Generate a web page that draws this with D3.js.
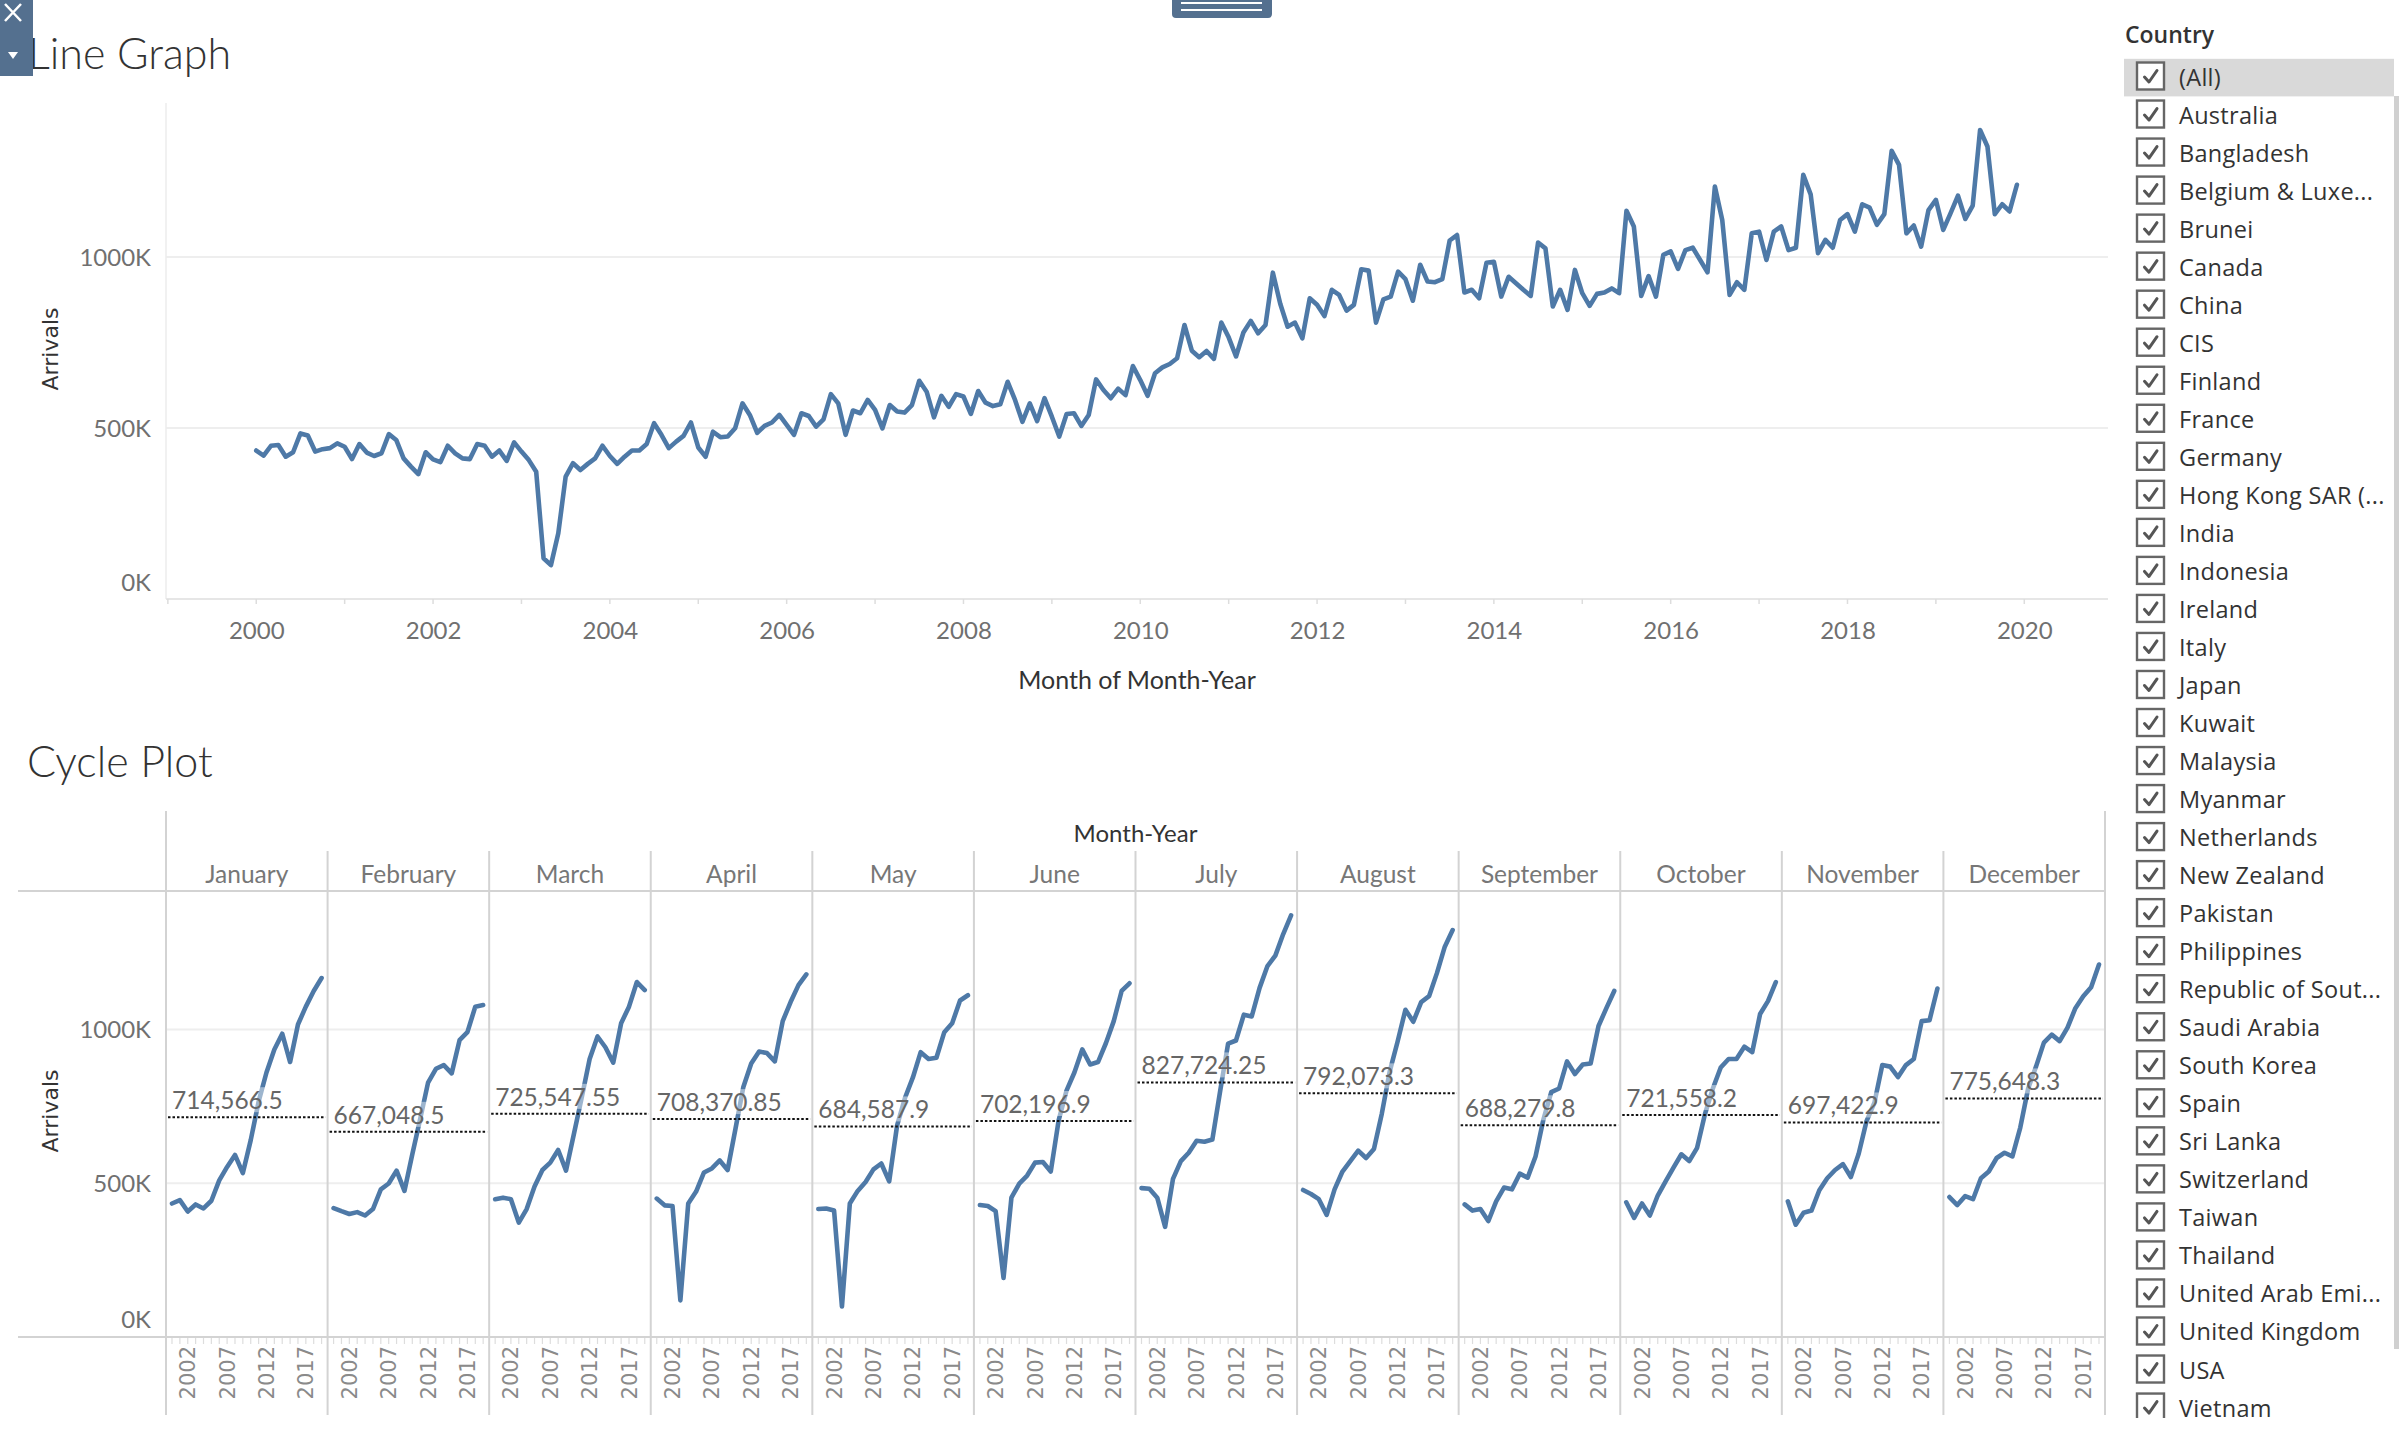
<!DOCTYPE html>
<html><head><meta charset="utf-8">
<script src="https://cdn.jsdelivr.net/npm/d3@7/dist/d3.min.js"></script>
<style>
html,body{margin:0;padding:0;background:#fff;}
svg{display:block;}
</style></head><body>
<svg id="chart" width="2399" height="1437"></svg>
<script>
// ---------- DATA ----------
const years = [2000,2001,2002,2003,2004,2005,2006,2007,2008,2009,2010,2011,2012,2013,2014,2015,2016,2017,2018,2019];
const months = ["January","February","March","April","May","June","July","August","September","October","November","December"];
// Monthly arrivals (thousands), one row per year, Jan..Dec
const arrivalsK = [
  434,419,448,450,416,429,484,478,431,438,441,455,      // 2000
  445,409,453,428,418,426,482,465,411,387,365,429,      // 2001
  408,400,448,426,411,409,453,448,416,434,404,458,      // 2002
  431,406,372,119,99,192,358,397,377,395,411,448,       // 2003
  418,395,416,434,434,453,514,480,441,460,477,516,      // 2004
  443,416,489,473,475,499,572,538,486,506,516,538,      // 2005
  509,480,543,535,504,525,599,572,480,551,543,582,      // 2006
  553,499,567,548,545,567,638,606,531,594,562,599,      // 2007
  592,541,608,574,564,569,635,582,518,572,520,587,      // 2008
  533,475,541,543,506,538,642,611,587,615,596,681,      // 2009
  640,594,660,677,687,704,801,726,707,725,702,808,      // 2010
  765,709,779,813,777,801,954,863,796,808,762,879,      // 2011
  860,827,904,889,843,860,964,960,808,876,884,957,      // 2012
  935,872,977,928,926,935,1048,1064,896,904,879,983,    // 2013
  986,884,942,923,904,886,1042,1025,855,904,845,962,    // 2014
  894,857,892,896,908,894,1135,1089,886,944,884,1006,   // 2015
  1016,965,1020,1027,991,955,1206,1108,889,926,904,1069,// 2016
  1074,991,1074,1089,1020,1027,1240,1183,1011,1050,1027,1108, // 2017
  1125,1074,1154,1144,1094,1125,1310,1269,1069,1092,1030,1137, // 2018
  1167,1079,1128,1179,1111,1150,1371,1323,1125,1154,1133,1211  // 2019
];
const monthAverages = [714566.5,667048.5,725547.55,708370.85,684587.9,702196.9,827724.25,792073.3,688279.8,721558.2,697422.9,775648.3];
const lineYearTicks = [2000,2002,2004,2006,2008,2010,2012,2014,2016,2018,2020];
const lineMinorTicks = [1999,2000,2001,2002,2003,2004,2005,2006,2007,2008,2009,2010,2011,2012,2013,2014,2015,2016,2017,2018,2019,2020];
const cycleYearTicks = [2002,2007,2012,2017];
const valueTicksK = [0,500,1000];
const countries = ["(All)","Australia","Bangladesh","Belgium & Luxe...","Brunei","Canada","China","CIS","Finland","France","Germany","Hong Kong SAR (...","India","Indonesia","Ireland","Italy","Japan","Kuwait","Malaysia","Myanmar","Netherlands","New Zealand","Pakistan","Philippines","Republic of Sout...","Saudi Arabia","South Korea","Spain","Sri Lanka","Switzerland","Taiwan","Thailand","United Arab Emi...","United Kingdom","USA","Vietnam"];

// ---------- SETUP ----------
const svg = d3.select("#chart");
const TF = "Lato, 'Liberation Sans', Arial, sans-serif";
const VF = "'DejaVu Sans', Verdana, sans-serif";
const OF = "'Open Sans', 'DejaVu Sans', sans-serif";
const BLUE = "#4e79a7";
const series = arrivalsK.map((v,i)=>({year: years[Math.floor(i/12)], month: i%12, v}));

// ---------- LINE GRAPH ----------
const L = {left:166, right:2108, top:103, bottom:599};
const xL = d3.scaleLinear().domain([1998.979, 2020.947]).range([L.left, L.right]);
const yL = d3.scaleLinear().domain([0, 1450]).range([L.bottom, L.top]);
const gL = svg.append("g");

gL.selectAll("line.grid").data(valueTicksK.filter(d=>d>0)).join("line")
  .attr("x1", L.left).attr("x2", L.right)
  .attr("y1", d=>yL(d)).attr("y2", d=>yL(d))
  .attr("stroke", "#eeeeee").attr("stroke-width", 2);
gL.append("line").attr("x1", L.left).attr("x2", L.left).attr("y1", L.top).attr("y2", L.bottom)
  .attr("stroke", "#ececec").attr("stroke-width", 1.5);
gL.append("line").attr("x1", L.left).attr("x2", L.right).attr("y1", L.bottom).attr("y2", L.bottom)
  .attr("stroke", "#e6e6e6").attr("stroke-width", 2);
gL.selectAll("line.mt").data(lineMinorTicks).join("line")
  .attr("x1", d=>xL(d)).attr("x2", d=>xL(d)).attr("y1", L.bottom).attr("y2", L.bottom+5)
  .attr("stroke", "#dddddd").attr("stroke-width", 1.5);

const yAxL = gL.append("g").attr("transform", `translate(${L.left},0)`)
  .call(d3.axisLeft(yL).tickValues(valueTicksK).tickFormat(d=>d+"K").tickSize(0).tickPadding(15));
yAxL.select(".domain").remove();
yAxL.selectAll("text").attr("font-family", TF).attr("font-size", 24).attr("fill", "#707070")
  .attr("dy", d => d===0 ? "-0.35em" : "0.35em");

const xAxL = gL.append("g").attr("transform", `translate(0,${L.bottom})`)
  .call(d3.axisBottom(xL).tickValues(lineYearTicks).tickFormat(d3.format("d")).tickSize(0).tickPadding(23));
xAxL.select(".domain").remove();
xAxL.selectAll("text").attr("font-family", TF).attr("font-size", 24).attr("fill", "#707070");

gL.append("path").datum(series)
  .attr("d", d3.line().x(d=>xL(d.year + d.month/12)).y(d=>yL(d.v)))
  .attr("fill", "none").attr("stroke", BLUE).attr("stroke-width", 4.6)
  .attr("stroke-linejoin", "round").attr("stroke-linecap", "round");

svg.append("text").attr("x", 28).attr("y", 69).text("Line Graph")
  .attr("font-family", TF).attr("font-size", 43).attr("font-weight", 300).attr("fill", "#333");
svg.append("text").attr("transform", "translate(50,349) rotate(-90)").text("Arrivals")
  .attr("text-anchor", "middle").attr("dominant-baseline", "central")
  .attr("font-family", VF).attr("font-size", 22).attr("fill", "#333");
svg.append("text").attr("x", 1137).attr("y", 679).text("Month of Month-Year")
  .attr("text-anchor", "middle").attr("dominant-baseline", "central")
  .attr("font-family", TF).attr("font-size", 25).attr("fill", "#333");

// ---------- CYCLE PLOT ----------
const C = {left:166, right:2105, top:891, bottom:1337};
const xBand = d3.scaleBand().domain(months).range([C.left, C.right]);
const bw = xBand.bandwidth();
const xIn = d3.scaleLinear().domain([years[0], years[years.length-1]]).range([6, bw-6]);
const yC = d3.scaleLinear().domain([0, 1450]).range([C.bottom, C.top]);
const gC = svg.append("g");

svg.append("text").attr("x", 27).attr("y", 777).text("Cycle Plot")
  .attr("font-family", TF).attr("font-size", 43).attr("font-weight", 300).attr("fill", "#333");
svg.append("text").attr("x", (C.left+C.right)/2).attr("y", 832).text("Month-Year")
  .attr("text-anchor", "middle").attr("dominant-baseline", "central")
  .attr("font-family", TF).attr("font-size", 24).attr("fill", "#333");
svg.append("text").attr("transform", "translate(50,1111) rotate(-90)").text("Arrivals")
  .attr("text-anchor", "middle").attr("dominant-baseline", "central")
  .attr("font-family", VF).attr("font-size", 22).attr("fill", "#333");

// gridlines
gC.selectAll("line.grid").data(valueTicksK.filter(d=>d>0)).join("line")
  .attr("x1", C.left).attr("x2", C.right)
  .attr("y1", d=>yC(d)).attr("y2", d=>yC(d))
  .attr("stroke", "#eeeeee").attr("stroke-width", 2);

// frame lines
gC.append("line").attr("x1", 18).attr("x2", C.right).attr("y1", C.top).attr("y2", C.top)
  .attr("stroke", "#d3d3d3").attr("stroke-width", 2);
gC.append("line").attr("x1", 18).attr("x2", C.right).attr("y1", C.bottom).attr("y2", C.bottom)
  .attr("stroke", "#d3d3d3").attr("stroke-width", 2);
gC.append("line").attr("x1", C.left).attr("x2", C.left).attr("y1", 811).attr("y2", 1415)
  .attr("stroke", "#d3d3d3").attr("stroke-width", 2);
gC.append("line").attr("x1", C.right).attr("x2", C.right).attr("y1", 811).attr("y2", 1415)
  .attr("stroke", "#d3d3d3").attr("stroke-width", 2);
gC.selectAll("line.sep").data(months.slice(1)).join("line")
  .attr("x1", d=>xBand(d)).attr("x2", d=>xBand(d)).attr("y1", 851).attr("y2", 1415)
  .attr("stroke", "#d3d3d3").attr("stroke-width", 2);

// month headers
gC.selectAll("text.mh").data(months).join("text")
  .attr("x", d=>xBand(d)+bw/2).attr("y", 873).text(d=>d)
  .attr("text-anchor", "middle").attr("dominant-baseline", "central")
  .attr("font-family", TF).attr("font-size", 24.5).attr("fill", "#777");

// y axis
const yAxC = gC.append("g").attr("transform", `translate(${C.left},0)`)
  .call(d3.axisLeft(yC).tickValues(valueTicksK).tickFormat(d=>d+"K").tickSize(0).tickPadding(15));
yAxC.select(".domain").remove();
yAxC.selectAll("text").attr("font-family", TF).attr("font-size", 24).attr("fill", "#707070")
  .attr("dy", d => d===0 ? "-0.4em" : "0.35em");

const fmt = d3.format(",");
months.forEach((m, mi) => {
  const x0 = xBand(m);
  const pg = gC.append("g").attr("transform", `translate(${x0},0)`);
  // minor year ticks
  pg.selectAll("line.yt").data(years).join("line")
    .attr("x1", d=>xIn(d)).attr("x2", d=>xIn(d)).attr("y1", C.bottom+1).attr("y2", C.bottom+7)
    .attr("stroke", "#dddddd").attr("stroke-width", 1.2);
  // year labels
  pg.selectAll("text.yl").data(cycleYearTicks).join("text")
    .attr("transform", d=>`translate(${xIn(d)},${C.bottom+9}) rotate(-90)`)
    .attr("text-anchor", "end").attr("dy", "0.36em").text(d=>d)
    .attr("font-family", VF).attr("font-size", 21).attr("fill", "#8a8a8a");
  // line
  const pts = series.filter(d=>d.month===mi);
  pg.append("path").datum(pts)
    .attr("d", d3.line().x(d=>xIn(d.year)).y(d=>yC(d.v)))
    .attr("fill", "none").attr("stroke", BLUE).attr("stroke-width", 4.6)
    .attr("stroke-linejoin", "round").attr("stroke-linecap", "round");
  // reference line
  const ry = yC(monthAverages[mi]/1000);
  pg.append("line").attr("x1", 2).attr("x2", bw-2).attr("y1", ry).attr("y2", ry)
    .attr("stroke", "#111").attr("stroke-width", 2).attr("stroke-dasharray", "2.5,2");
  const lbl = pg.append("text").attr("x", 6).attr("y", ry-8).text(fmt(monthAverages[mi]))
    .attr("font-family", TF).attr("font-size", 24.5).attr("fill", "#666");
  const bb = lbl.node().getBBox();
  pg.insert("rect", "text:last-of-type").attr("x", bb.x-1).attr("y", bb.y+2).attr("width", bb.width+2).attr("height", bb.height-4)
    .attr("fill", "#fff").attr("fill-opacity", 0.45);
  lbl.raise();
});

// ---------- LEGEND ----------
const gLeg = svg.append("g");
svg.append("clipPath").attr("id", "legclip").append("rect")
  .attr("x", 2100).attr("y", 0).attr("width", 299).attr("height", 1418);
gLeg.attr("clip-path", "url(#legclip)");
gLeg.append("text").attr("x", 2125).attr("y", 34).text("Country")
  .attr("dominant-baseline", "central").attr("font-family", OF).attr("font-size", 23)
  .attr("font-weight", 600).attr("fill", "#333");
gLeg.append("rect").attr("x", 2124).attr("y", 58.8).attr("width", 270).attr("height", 37.6).attr("fill", "#d9d9d9");
gLeg.append("rect").attr("x", 2394).attr("y", 96).attr("width", 5).attr("height", 1253).attr("fill", "#d0d0d0");
const rowY = i => 76.5 + i*38.03;
const rows = gLeg.selectAll("g.row").data(countries).join("g")
  .attr("transform", (d,i)=>`translate(0,${rowY(i)})`);
rows.append("rect").attr("x", 2137).attr("y", -14).attr("width", 27).attr("height", 27)
  .attr("fill", "#fff").attr("stroke", "#666").attr("stroke-width", 2.4);
rows.append("path").attr("d", "M2144.5,0.5 L2149,5.5 L2157,-6")
  .attr("fill", "none").attr("stroke", "#555").attr("stroke-width", 3).attr("stroke-linecap", "round").attr("stroke-linejoin", "round");
rows.append("text").attr("x", 2179).attr("y", 0).text(d=>d)
  .attr("dominant-baseline", "central").attr("font-family", OF).attr("font-size", 23.5)
  .attr("letter-spacing", 0.3).attr("fill", "#333");

// ---------- TOOLBAR ----------
svg.append("rect").attr("x", 0).attr("y", 0).attr("width", 33).attr("height", 76).attr("fill", "#54708f");
svg.append("path").attr("d", "M5,4 L21,21 M21,4 L5,21").attr("stroke", "#fff").attr("stroke-width", 2.5);
svg.append("path").attr("d", "M8,52 L18,52 L13,59 Z").attr("fill", "#fff");
svg.append("path").attr("d", "M1172,0 L1272,0 L1272,14 Q1272,18 1268,18 L1176,18 Q1172,18 1172,14 Z").attr("fill", "#54708f");
svg.append("path").attr("d", "M1181,3 L1262,3 M1181,10 L1262,10").attr("stroke", "#fff").attr("stroke-width", 1.8);
</script>
</body></html>
